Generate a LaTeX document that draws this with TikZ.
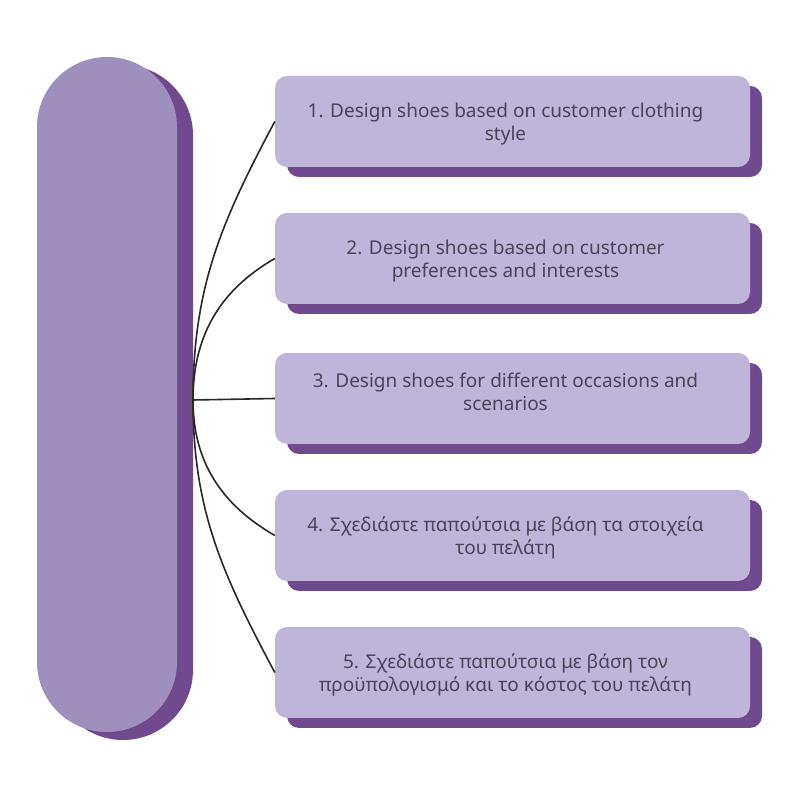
\documentclass[tikz,border=0pt]{standalone}
\usepackage{fontspec}
\setmainfont{Noto Sans}
\usetikzlibrary{shadows}
\definecolor{pillfill}{HTML}{9E8FBF}
\definecolor{cardfill}{HTML}{BFB5D8}
\definecolor{deeppurple}{HTML}{704A8E}
\definecolor{cardtext}{HTML}{4A4458}
\definecolor{wire}{HTML}{2B2628}
\newcommand*{\cardlines}[2][-7.5pt]{\raisebox{#1}[0pt][0pt]{\begin{tabular}{@{}c@{}}#2\end{tabular}}\hspace*{14pt}}

\begin{document}
\begin{tikzpicture}[x=1pt,y=1pt,
  pill/.style={rectangle,rounded corners=70pt,fill=pillfill,
    minimum width=140pt,minimum height=675pt,inner sep=0pt,
    drop shadow={shadow xshift=16pt,shadow yshift=-8pt,fill=deeppurple,opacity=1}},
  card/.style={rectangle,rounded corners=12pt,fill=cardfill,
    minimum width=475pt,minimum height=91pt,inner sep=0pt,
    text=cardtext,font=\fontsize{19}{23}\selectfont,
    drop shadow={shadow xshift=12pt,shadow yshift=-10pt,fill=deeppurple,opacity=1}},
  link/.style={draw=wire,line width=1.6pt}]
\useasboundingbox (0,0) rectangle (800,800);
\node[pill] (spine) at (107,405.5) {};

\node[card] (c1) at (512.5,678.5) {\cardlines{1. Design shoes based on customer clothing\\style}};
\node[card] (c2) at (512.5,541.5) {\cardlines{2. Design shoes based on customer\\preferences and interests}};
\node[card] (c3) at (512.5,401.5) {\cardlines[0pt]{3. Design shoes for different occasions and\\scenarios}};
\node[card] (c4) at (512.5,264.5) {\cardlines{4. Σχεδιάστε παπούτσια με βάση τα στοιχεία\\του πελάτη}};
\node[card] (c5) at (512.5,127.5) {\cardlines{5. Σχεδιάστε παπούτσια με βάση τον\\προϋπολογισμό και το κόστος του πελάτη}};

\coordinate (hub) at (193,400);
\draw[link] (hub) to[out=90,in=-118] (c1.west);
\draw[link] (hub) to[out=90,in=-150] (c2.west);
\draw[link] (hub) -- (c3.west);
\draw[link] (hub) to[out=-90,in=150] (c4.west);
\draw[link] (hub) to[out=-90,in=118] (c5.west);

\end{tikzpicture}
\end{document}
